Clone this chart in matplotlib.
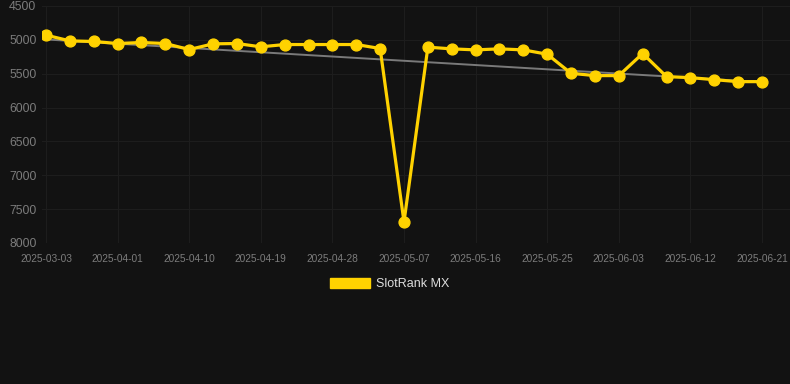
import matplotlib.pyplot as plt
from matplotlib.patches import Patch

# rank values (lower = better, axis inverted)
dates = ['2025-03-03', '2025-03-26', '2025-03-29', '2025-04-01', '2025-04-04', '2025-04-07',
         '2025-04-10', '2025-04-13', '2025-04-16', '2025-04-19', '2025-04-22', '2025-04-25',
         '2025-04-28', '2025-05-01', '2025-05-04', '2025-05-07', '2025-05-10', '2025-05-13',
         '2025-05-16', '2025-05-19', '2025-05-22', '2025-05-25', '2025-05-28', '2025-05-31',
         '2025-06-03', '2025-06-06', '2025-06-09', '2025-06-12', '2025-06-15', '2025-06-18',
         '2025-06-21']
ranks = [4930, 5015, 5024, 5054, 5039, 5054, 5143, 5059, 5054, 5103, 5069, 5069, 5069, 5069,
         5128, 7689, 5108, 5133, 5148, 5133, 5148, 5212, 5494, 5528, 5528, 5202, 5543, 5558,
         5588, 5617, 5617]
trend = [4994, 5624]
yticks = [4500, 5000, 5500, 6000, 6500, 7000, 7500, 8000]

bg = '#121212'
gold = '#FFD200'

fig = plt.figure(figsize=(7.9, 3.84), dpi=100, facecolor=bg)
ax = fig.add_axes([42 / 790, (384 - 243) / 384, 1 - 42 / 790, (243 - 6) / 384])
ax.set_facecolor(bg)

x = list(range(len(dates)))
ax.plot([x[0], x[-1]], trend, color='#7a7a7a', lw=1.4, zorder=2)
ax.plot(x, ranks, color=gold, lw=2.3, marker='o', ms=7.8, zorder=3, label='SlotRank MX')

ax.set_ylim(8000, 4500)
ax.set_xlim(-4 / 23.87, 30 + 28 / 23.87)
ax.set_yticks(yticks)
ax.set_xticks(x[::3])
ax.set_xticklabels(dates[::3])

for s in ax.spines.values():
    s.set_visible(False)
ax.grid(True, color='#1d1d1d', lw=0.8)
ax.set_axisbelow(True)
ax.tick_params(length=0, colors='#7c7c7c')
for t in ax.get_yticklabels():
    t.set_fontfamily('Liberation Sans')
    t.set_fontsize(8.8)
for t in ax.get_xticklabels():
    t.set_fontfamily('Liberation Sans')
    t.set_fontsize(7.3)
ax.tick_params(axis='y', pad=4)
ax.tick_params(axis='x', pad=8)

# legend as a filled box like the original
leg = fig.legend(handles=[Patch(color=gold, label='SlotRank MX')], loc='center',
                 bbox_to_anchor=(390 / 790, 1 - 284 / 384), frameon=False,
                 handlelength=3.2, handleheight=0.9, handletextpad=0.5,
                 prop={'family': 'Liberation Sans', 'size': 9})
for t in leg.get_texts():
    t.set_color('#dddddd')

fig.savefig('out.png', dpi=100, facecolor=bg)
